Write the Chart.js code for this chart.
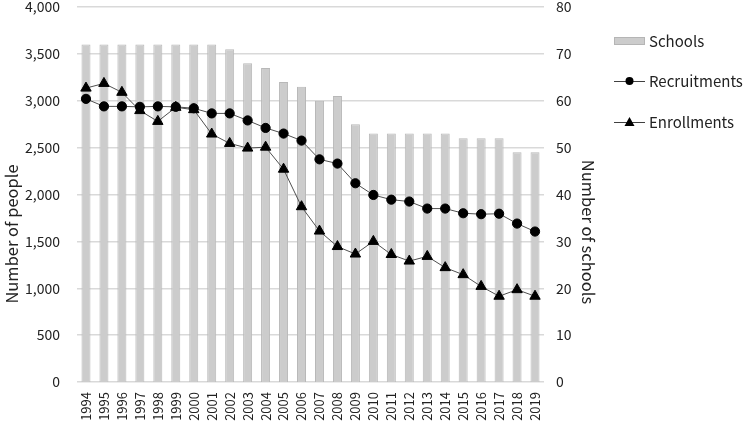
<!DOCTYPE html>
<html>
<head>
<meta charset="utf-8">
<script src="https://cdn.jsdelivr.net/npm/chart.js@4"></script>
<style>
  body { margin: 0; background: #fff; overflow: hidden; }
  #wrap { width: 751px; height: 423px; }
</style>
</head>
<body>
<div id="wrap"><canvas id="myChart"></canvas></div>
<script>
const years = ['1994', '1995', '1996', '1997', '1998', '1999', '2000', '2001', '2002', '2003', '2004', '2005', '2006',
  '2007', '2008', '2009', '2010', '2011', '2012', '2013', '2014', '2015', '2016', '2017', '2018', '2019'];
const schools = [72, 72, 72, 72, 72, 72, 72, 72, 71, 68, 67, 64, 63, 60, 61, 55, 53, 53, 53, 53, 53, 52, 52, 52, 49, 49];
const recruitments = [3020, 2940, 2940, 2935, 2940, 2935, 2920, 2865, 2865, 2790, 2710, 2650, 2575, 2375, 2330, 2120,
  1995, 1945, 1925, 1850, 1850, 1800, 1790, 1795, 1690, 1605];
const enrollments = [3135, 3185, 3090, 2895, 2780, 2930, 2905, 2645, 2545, 2495, 2505, 2270, 1870, 1610, 1445, 1365,
  1500, 1360, 1290, 1340, 1220, 1145, 1020, 915, 985, 915];

const FONT = '"Noto Sans CJK JP", "Noto Sans", sans-serif';

// legend and axis titles drawn by hand: the titles sit below the middle of the axis
const sidePlugin = {
  id: 'sideLegend',
  afterDraw(chart) {
    const ctx = chart.ctx;
    const x = 614;
    const items = [
      { label: 'Schools', y: 41, kind: 'bar' },
      { label: 'Recruitments', y: 81, kind: 'circle' },
      { label: 'Enrollments', y: 122, kind: 'triangle' }
    ];
    ctx.save();
    items.forEach(function (it) {
      if (it.kind === 'bar') {
        ctx.fillStyle = '#cccccc';
        ctx.strokeStyle = '#b5b5b5';
        ctx.fillRect(x, it.y - 4, 31, 8);
        ctx.strokeRect(x + 0.5, it.y - 3.5, 30, 7);
      } else {
        ctx.strokeStyle = '#404040';
        ctx.lineWidth = 1;
        ctx.beginPath();
        ctx.moveTo(x, it.y + 0.5);
        ctx.lineTo(x + 31, it.y + 0.5);
        ctx.stroke();
        ctx.fillStyle = '#000';
        ctx.beginPath();
        if (it.kind === 'circle') {
          ctx.arc(x + 15.5, it.y, 4, 0, Math.PI * 2);
        } else {
          ctx.moveTo(x + 15.5, it.y - 5);
          ctx.lineTo(x + 20.5, it.y + 4);
          ctx.lineTo(x + 10.5, it.y + 4);
          ctx.closePath();
        }
        ctx.fill();
      }
      ctx.fillStyle = '#222';
      ctx.font = '15px ' + FONT;
      ctx.textBaseline = 'middle';
      ctx.textAlign = 'left';
      ctx.fillText(it.label, x + 35, it.y);
    });

    ctx.font = '16.5px ' + FONT;
    ctx.textAlign = 'center';
    ctx.textBaseline = 'middle';
    ctx.fillStyle = '#222';
    ctx.save();
    ctx.translate(12, 234);
    ctx.rotate(-Math.PI / 2);
    ctx.fillText('Number of people', 0, 0);
    ctx.restore();
    ctx.save();
    ctx.translate(588, 232);
    ctx.rotate(Math.PI / 2);
    ctx.fillText('Number of schools', 0, 0);
    ctx.restore();
    ctx.restore();
  }
};

const ctx = document.getElementById('myChart').getContext('2d');
const chart = new Chart(ctx, {
  data: {
    labels: years,
    datasets: [
      {
        type: 'line',
        label: 'Recruitments',
        data: recruitments,
        yAxisID: 'y',
        borderColor: '#505050',
        borderWidth: 1,
        pointStyle: 'circle',
        pointRadius: 4.6,
        pointBackgroundColor: '#000',
        pointBorderColor: '#000',
        order: 1
      },
      {
        type: 'line',
        label: 'Enrollments',
        data: enrollments,
        yAxisID: 'y',
        borderColor: '#505050',
        borderWidth: 1,
        pointStyle: 'triangle',
        pointRadius: 6,
        pointBackgroundColor: '#000',
        pointBorderColor: '#000',
        order: 1
      },
      {
        type: 'bar',
        label: 'Schools',
        data: schools,
        yAxisID: 'y2',
        backgroundColor: '#cccccc',
        borderColor: '#b8b8b8',
        borderWidth: 1,
        barPercentage: 0.5,
        categoryPercentage: 1,
        order: 2
      }
    ]
  },
  options: {
    responsive: true,
    maintainAspectRatio: false,
    animation: false,
    layout: { padding: { top: 5, right: 153, left: 0, bottom: 0 } },
    plugins: {
      legend: { display: false },
      tooltip: { enabled: false }
    },
    scales: {
      x: {
        grid: { display: false },
        border: { display: false },
        ticks: {
          color: '#222',
          font: { family: FONT, size: 13 },
          minRotation: 90,
          maxRotation: 90,
          autoSkip: false,
          padding: 2
        },
        afterFit(scale) {
          scale.paddingLeft = 0;
          scale.paddingRight = 0;
          scale.height = 41;
        }
      },
      y: {
        position: 'left',
        min: 0,
        max: 4000,
        ticks: {
          stepSize: 500,
          color: '#222',
          font: { family: FONT, size: 14 },
          padding: 17
        },
        grid: { color: '#d9d9d9', lineWidth: 1.5, drawTicks: false },
        border: { display: false },
        afterFit(scale) {
          scale.paddingTop = 0;
          scale.paddingBottom = 0;
          scale.width = 77;
        }
      },
      y2: {
        position: 'right',
        min: 0,
        max: 80,
        ticks: {
          stepSize: 10,
          color: '#222',
          font: { family: FONT, size: 14 },
          padding: 12
        },
        grid: { display: false, drawTicks: false },
        border: { display: false },
        afterFit(scale) {
          scale.paddingTop = 0;
          scale.paddingBottom = 0;
          scale.width = 54;
        }
      }
    }
  },
  plugins: [sidePlugin]
});
</script>
</body>
</html>
